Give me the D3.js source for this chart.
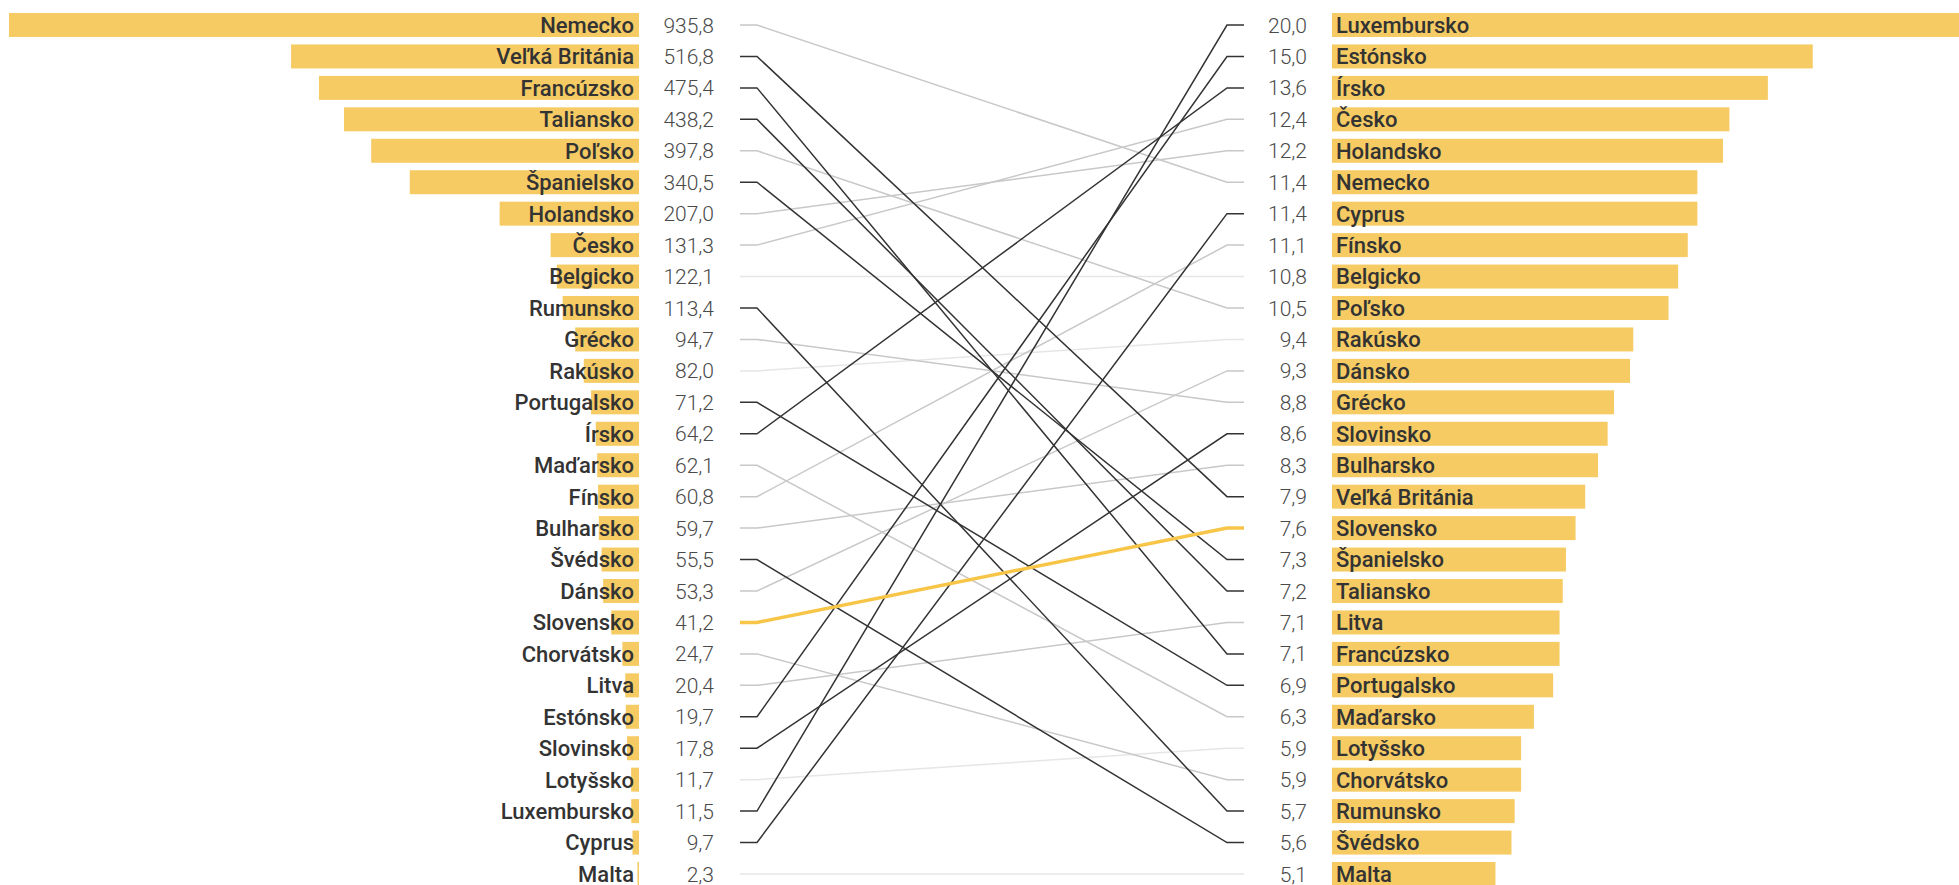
<!DOCTYPE html>
<html>
<head>
<meta charset="utf-8">
<script src="https://cdn.jsdelivr.net/npm/d3@7"></script>
<style>
  body { margin: 0; background: #fff; }
  svg { display: block; font-family: Roboto, "Noto Sans", sans-serif; }
</style>
</head>
<body>
<div id="contenedor"></div>
<script>
// lavy stlpec (absolutne hodnoty)
var leftNames = ["Nemecko", "Veľká Británia", "Francúzsko", "Taliansko", "Poľsko", "Španielsko",
  "Holandsko", "Česko", "Belgicko", "Rumunsko", "Grécko", "Rakúsko", "Portugalsko", "Írsko",
  "Maďarsko", "Fínsko", "Bulharsko", "Švédsko", "Dánsko", "Slovensko", "Chorvátsko", "Litva",
  "Estónsko", "Slovinsko", "Lotyšsko", "Luxembursko", "Cyprus", "Malta"]
var leftValues = [935.8, 516.8, 475.4, 438.2, 397.8, 340.5, 207.0, 131.3, 122.1, 113.4, 94.7, 82.0,
  71.2, 64.2, 62.1, 60.8, 59.7, 55.5, 53.3, 41.2, 24.7, 20.4, 19.7, 17.8, 11.7, 11.5, 9.7, 2.3]

// pravy stlpec (na obyvatela)
var rightNames = ["Luxembursko", "Estónsko", "Írsko", "Česko", "Holandsko", "Nemecko", "Cyprus",
  "Fínsko", "Belgicko", "Poľsko", "Rakúsko", "Dánsko", "Grécko", "Slovinsko", "Bulharsko",
  "Veľká Británia", "Slovensko", "Španielsko", "Taliansko", "Litva", "Francúzsko", "Portugalsko",
  "Maďarsko", "Lotyšsko", "Chorvátsko", "Rumunsko", "Švédsko", "Malta"]
var rightValues = [20.0, 15.0, 13.6, 12.4, 12.2, 11.4, 11.4, 11.1, 10.8, 10.5, 9.4, 9.3, 8.8, 8.6,
  8.3, 7.9, 7.6, 7.3, 7.2, 7.1, 7.1, 6.9, 6.3, 5.9, 5.9, 5.7, 5.6, 5.1]

var highlight = "Slovensko"

var ancho = 1959
var alto = 885

var formato = d3.formatLocale({decimal: ",", thousands: " ", grouping: [3], currency: ["", ""]}).format(".1f")

var escalaY = d3.scalePoint()
  .domain(d3.range(leftNames.length))
  .range([25, 874])

var escalaIzq = d3.scaleLinear()
  .domain([0, d3.max(leftValues)])
  .range([639, 9])

var escalaDer = d3.scaleLinear()
  .domain([0, d3.max(rightValues)])
  .range([1332, 1973])

var barH = 24

var svg = d3.select("#contenedor")
  .append("svg")
  .attr("width", ancho)
  .attr("height", alto)

var izq = leftNames.map(function(n, i) { return {name: n, value: leftValues[i], i: i} })
var der = rightNames.map(function(n, i) { return {name: n, value: rightValues[i], i: i} })

// lave stlpce
svg.append("g").selectAll("rect")
  .data(izq)
  .enter()
  .append("rect")
  .attr("x", function(d) { return escalaIzq(d.value) })
  .attr("width", function(d) { return escalaIzq(0) - escalaIzq(d.value) })
  .attr("y", function(d) { return escalaY(d.i) - barH / 2 })
  .attr("height", barH)
  .attr("fill", "#f6cb64")

svg.append("g").selectAll("text")
  .data(izq)
  .enter()
  .append("text")
  .attr("x", 634)
  .attr("y", function(d) { return escalaY(d.i) })
  .attr("dy", "0.36em")
  .attr("text-anchor", "end")
  .attr("font-size", 22)
  .attr("font-weight", 500)
  .attr("fill", "#333")
  .text(function(d) { return d.name })

svg.append("g").selectAll("text")
  .data(izq)
  .enter()
  .append("text")
  .attr("x", 714)
  .attr("y", function(d) { return escalaY(d.i) })
  .attr("dy", "0.36em")
  .attr("text-anchor", "end")
  .attr("font-size", 21)
  .attr("font-weight", 300)
  .attr("fill", "#4a4a4a")
  .text(function(d) { return formato(d.value) })

// prave stlpce
svg.append("g").selectAll("rect")
  .data(der)
  .enter()
  .append("rect")
  .attr("x", escalaDer(0))
  .attr("width", function(d) { return escalaDer(d.value) - escalaDer(0) })
  .attr("y", function(d) { return escalaY(d.i) - barH / 2 })
  .attr("height", barH)
  .attr("fill", "#f6cb64")

svg.append("g").selectAll("text")
  .data(der)
  .enter()
  .append("text")
  .attr("x", 1336)
  .attr("y", function(d) { return escalaY(d.i) })
  .attr("dy", "0.36em")
  .attr("font-size", 22)
  .attr("font-weight", 500)
  .attr("fill", "#333")
  .text(function(d) { return d.name })

svg.append("g").selectAll("text")
  .data(der)
  .enter()
  .append("text")
  .attr("x", 1307)
  .attr("y", function(d) { return escalaY(d.i) })
  .attr("dy", "0.36em")
  .attr("text-anchor", "end")
  .attr("font-size", 21)
  .attr("font-weight", 300)
  .attr("fill", "#4a4a4a")
  .text(function(d) { return formato(d.value) })

// ciary medzi poradiami
var ciaras = izq.map(function(d) {
  var j = rightNames.indexOf(d.name)
  return {name: d.name, from: d.i, to: j, cambio: Math.abs(j - d.i)}
})

function tipo(d) {
  if (d.name === highlight) return 3
  if (d.cambio >= 9) return 2
  if (d.cambio <= 1) return 0
  return 1
}
var colores = ["#e6e6e6", "#c8c8c8", "#333333", "#f7c548"]
var grosor = [1.5, 1.5, 1.5, 3.5]

ciaras.sort(function(a, b) { return tipo(a) - tipo(b) })

var linea = d3.line()

svg.append("g").selectAll("path")
  .data(ciaras)
  .enter()
  .append("path")
  .attr("d", function(d) {
    var y1 = escalaY(d.from), y2 = escalaY(d.to)
    return linea([[740, y1], [757, y1], [1227, y2], [1244, y2]])
  })
  .attr("fill", "none")
  .attr("stroke", function(d) { return colores[tipo(d)] })
  .attr("stroke-width", function(d) { return grosor[tipo(d)] })
</script>
</body>
</html>
